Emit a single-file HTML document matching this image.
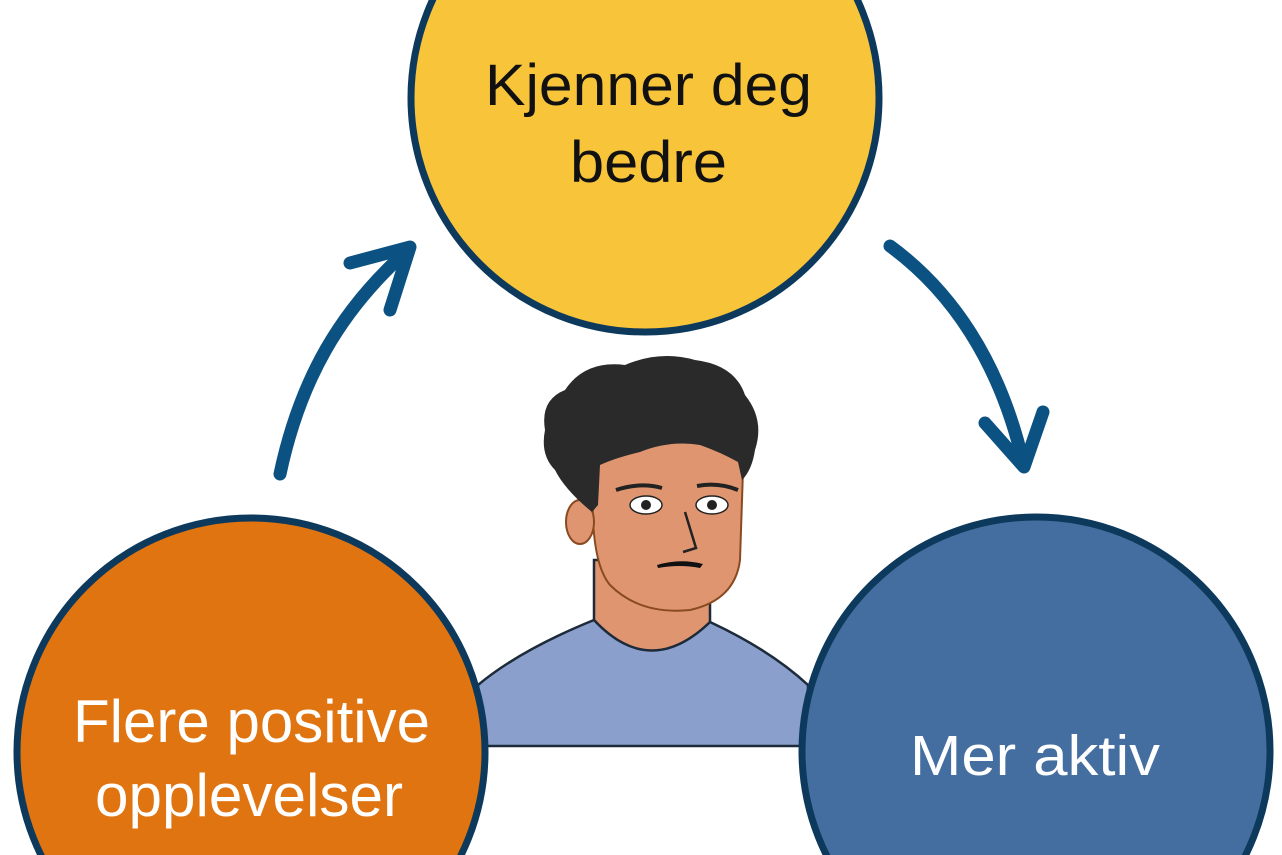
<!DOCTYPE html>
<html><head><meta charset="utf-8"><style>
html,body{margin:0;padding:0;background:#fff;width:1282px;height:855px;overflow:hidden}
svg{display:block}
text{font-family:"Liberation Sans",sans-serif}
</style></head><body>
<svg width="1282" height="855" viewBox="0 0 1282 855" xmlns="http://www.w3.org/2000/svg">
<defs><clipPath id="c"><rect width="1282" height="855"/></clipPath></defs>
<g clip-path="url(#c)">
<rect width="1282" height="855" fill="#fff"/>
<circle cx="645" cy="98" r="234" fill="#f8c43a" stroke="#0d3a5c" stroke-width="7"/>
<text x="485" y="105" font-size="58" textLength="327" lengthAdjust="spacingAndGlyphs" fill="#111">Kjenner deg</text>
<text x="570" y="182" font-size="58" textLength="157" lengthAdjust="spacingAndGlyphs" fill="#111">bedre</text>
<g fill="none" stroke="#0b5283" stroke-width="13" stroke-linecap="round" stroke-linejoin="round">
<path d="M280,474 C300,380 340,310 408,250"/>
<path d="M350,263 L410,247 L390,310"/>
<path d="M890,246 C950,290 1000,360 1024,466"/>
<path d="M985,423 L1024,467 L1043,412"/>
</g>
<path d="M478,685 Q520,650 594,620 L710,622 Q770,650 808,685 L808,746 L478,746 Z" fill="#8a9fcb" stroke="#1c2a3a" stroke-width="2.5"/>
<path d="M594,560 L594,620 Q650,680 710,622 L710,560 Z" fill="#df9670" stroke="#1c2a3a" stroke-width="2.5"/>
<path d="M596,440 Q585,555 610,585 Q640,615 690,610 Q735,600 740,560 L744,440 Z" fill="#df9670" stroke="#8a4a20" stroke-width="2"/>
<ellipse cx="580" cy="522" rx="14" ry="22" fill="#df9670" stroke="#8a4a20" stroke-width="2"/>
<path d="M592,512 Q565,490 555,470 Q540,455 545,430 Q540,400 565,390 Q585,360 625,365 Q660,350 695,360 Q735,365 745,395 Q765,420 755,450 Q752,470 742,480 L738,462 Q720,452 700,445 Q670,440 640,452 Q615,458 600,465 L598,505 Z" fill="#2a2a2a"/>
<ellipse cx="646" cy="505" rx="16" ry="9" fill="#fff" stroke="#222" stroke-width="1.5"/>
<circle cx="646" cy="505" r="5" fill="#222"/>
<ellipse cx="712" cy="505" rx="16" ry="9" fill="#fff" stroke="#222" stroke-width="1.5"/>
<circle cx="712" cy="505" r="5" fill="#222"/>
<path d="M616,490 Q640,482 662,488" stroke="#222" stroke-width="4" fill="none"/>
<path d="M697,486 Q718,482 738,490" stroke="#222" stroke-width="4" fill="none"/>
<path d="M685,512 L696,548 L683,552" stroke="#222" stroke-width="2.5" fill="none"/>
<path d="M657,565 Q680,558 703,564 L700,568 Q680,564 658,568 Z" fill="#111"/>
<circle cx="251" cy="752" r="234" fill="#e07410" stroke="#0d3a5c" stroke-width="7"/>
<text x="73" y="742" font-size="60" textLength="357" lengthAdjust="spacingAndGlyphs" fill="#fff">Flere positive</text>
<text x="95" y="816" font-size="60" textLength="308" lengthAdjust="spacingAndGlyphs" fill="#fff">opplevelser</text>
<circle cx="1036" cy="751" r="234" fill="#456ea0" stroke="#0d3a5c" stroke-width="7"/>
<text x="910" y="775" font-size="57" textLength="250" lengthAdjust="spacingAndGlyphs" fill="#fff">Mer aktiv</text>
</g>
</svg>
</body></html>
